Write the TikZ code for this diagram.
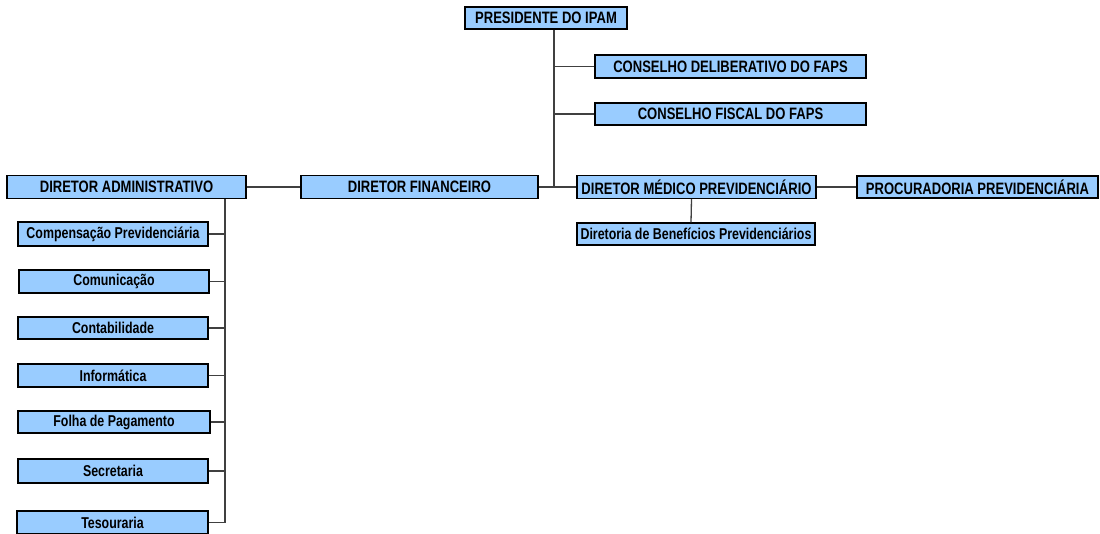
\documentclass[tikz,border=0pt]{standalone}
\usepackage{fontspec}
\setmainfont{Liberation Sans}[FakeStretch=0.79]
\usepackage{xcolor}
\usepackage{tikz}
\usetikzlibrary{calc}

\definecolor{orgblue}{HTML}{99CCFF}
\definecolor{linkgray}{HTML}{404040}
\newcommand{\orgfont}{\fontsize{16.5}{17}\selectfont\bfseries}
\newcommand{\subfont}{\fontsize{15.7}{17}\selectfont\bfseries}

\begin{document}
\begin{tikzpicture}[
    x=1pt, y=-1pt,
    orgbox/.style={rectangle, draw=black, line width=1.1pt, fill=orgblue, minimum height=23pt, inner sep=0pt, align=center, font=\orgfont},
    subbox/.style={orgbox, font=\subfont},
    link/.style={draw=linkgray, line width=1.3pt}
]
\useasboundingbox (0,0) rectangle (1100,533);

% Presidente e conselhos
\node[orgbox, minimum width=162pt, minimum height=22pt] (pres) at (546,18) {PRESIDENTE DO IPAM};
\node[orgbox, minimum width=271pt] (cdel) at (730.5,66.5) {CONSELHO DELIBERATIVO DO FAPS};
\node[orgbox, minimum width=271pt, minimum height=22pt] (cfis) at (730.5,114) {CONSELHO FISCAL DO FAPS};

% Diretorias
\node[orgbox, minimum width=239pt] (dadm) at (126.5,187) {DIRETOR ADMINISTRATIVO};
\node[orgbox, minimum width=237pt] (dfin) at (419.5,187) {DIRETOR FINANCEIRO};
\node[orgbox, minimum width=239pt] (dmed) at (696.5,187) {DIRETOR MÉDICO PREVIDENCIÁRIO};
\node[orgbox, minimum width=241pt, minimum height=22pt] (proc) at (977.5,187) {PROCURADORIA PREVIDENCIÁRIA};
\node[subbox, minimum width=238pt, minimum height=22pt] (dben) at (696,234) {Diretoria de Benefícios Previdenciários};

% Setores administrativos
\node[subbox, minimum width=190pt, minimum height=24pt] (comp) at (113,234) {Compensação Previdenciária};
\node[subbox, minimum width=190pt] (comun) at (114,281.5) {Comunicação};
\node[subbox, minimum width=190pt, minimum height=22pt] (cont) at (113,328) {Contabilidade};
\node[subbox, minimum width=190pt] (info) at (113,375.5) {Informática};
\node[subbox, minimum width=192pt, minimum height=22pt] (folha) at (114,422) {Folha de Pagamento};
\node[subbox, minimum width=190pt, minimum height=24pt] (secr) at (113,471) {Secretaria};
\node[subbox, minimum width=191pt] (tes) at (112.5,522.5) {Tesouraria};

% Eixos das ligações
\coordinate (hub) at (554,187);
\coordinate (spine) at (225,187);

% Presidente -> conselhos e diretorias
\draw[link] (pres.south -| hub) -- (hub);
\draw[link] (cdel.west) -- (cdel.west -| hub);
\draw[link] (cfis.west) -- (cfis.west -| hub);

% Linha das diretorias
\draw[link] (dadm.east) -- (dfin.west);
\draw[link] (dfin.east) -- (dmed.west);
\draw[link] (dmed.east) -- (proc.west);
\draw[link] ([xshift=-5pt]dmed.south) -- ([xshift=-5pt]dben.north);

% Diretor administrativo -> setores
\draw[link] (dadm.south -| spine) -- (tes.east -| spine);
\draw[link] (comp.east) -- (comp.east -| spine);
\draw[link] (comun.east) -- (comun.east -| spine);
\draw[link] (cont.east) -- (cont.east -| spine);
\draw[link] (info.east) -- (info.east -| spine);
\draw[link] (folha.east) -- (folha.east -| spine);
\draw[link] (secr.east) -- (secr.east -| spine);
\draw[link] (tes.east) -- (tes.east -| spine);

\end{tikzpicture}
\end{document}
